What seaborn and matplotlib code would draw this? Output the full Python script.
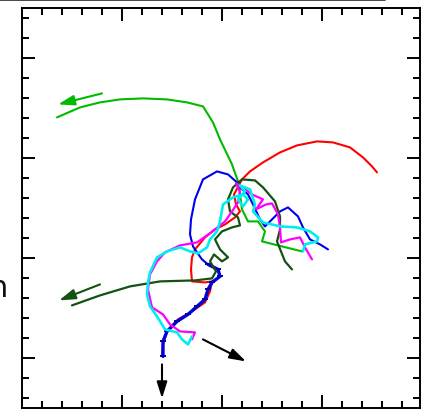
import matplotlib
matplotlib.use("Agg")
import matplotlib.pyplot as plt
from matplotlib.lines import Line2D
from matplotlib.ticker import MultipleLocator, FixedLocator
import seaborn as sns
import pandas as pd

sns.set_style("ticks")

# Trajectory coordinates (x, y) for each tracked particle
green_x = [280, 240, 243, 236, 226, 220, 218, 216, 210, 198, 191, 181, 165, 145, 121, 98, 78, 58, 35]
green_y = [157, 167, 177, 187, 187, 199, 214, 227, 244, 269, 286, 302, 306, 309, 310, 309, 306, 301, 291]

red_x = [355, 350, 341, 328, 311, 295, 275, 258, 241, 228, 220, 212, 214, 218, 213, 203, 193, 183,
         173, 170, 169, 170, 183, 190, 188, 183, 170, 156, 145, 141, 140]
red_y = [236, 242, 251, 261, 266, 267, 263, 256, 246, 237, 229, 214, 204, 197, 191, 184, 179, 171,
         159, 151, 139, 127, 126, 127, 117, 106, 97, 89, 77, 64, 54]

blue_x = [306, 298, 288, 281, 276, 266, 258, 243, 238, 231, 226, 218, 215, 206, 195, 181, 173, 169,
          168, 171, 175, 180, 186]
blue_y = [159, 164, 169, 181, 192, 201, 197, 182, 189, 204, 214, 221, 226, 234, 237, 229, 209, 189,
          174, 162, 156, 149, 144]

navy_x = [186, 196, 198, 190, 186, 183, 175, 166, 155, 145, 141, 141]
navy_y = [144, 139, 132, 126, 119, 109, 102, 94, 87, 77, 67, 52]

dkgreen_x = [270, 263, 255, 258, 258, 253, 241, 233, 220, 211, 206, 208, 216, 218, 210, 200, 193,
             198, 206, 200, 192, 188, 194, 190, 173, 138, 108, 78, 50]
dkgreen_y = [139, 147, 167, 179, 192, 207, 221, 228, 229, 221, 209, 197, 191, 183, 181, 177, 169,
             159, 151, 147, 154, 147, 137, 130, 128, 127, 122, 113, 103]

magenta_x = [170, 173, 158, 148, 141, 130, 126, 128, 135, 143, 158, 175, 185, 193, 203, 210, 216,
             218, 214, 223, 230, 241, 234, 244, 250, 256, 258, 259, 268, 278, 283, 290]
magenta_y = [69, 76, 77, 84, 94, 101, 119, 134, 147, 156, 163, 166, 173, 179, 187, 197, 206,
             217, 225, 219, 214, 209, 199, 204, 205, 194, 181, 166, 169, 171, 161, 149]

cyan_x = [170, 166, 160, 155, 143, 135, 128, 125, 126, 128, 135, 145, 158, 168, 176, 185, 188, 195,
          198, 201, 211, 221, 226, 221, 216, 223, 218, 228, 233, 231, 241, 258, 275, 288, 296, 295,
          283, 281]
cyan_y = [72, 64, 69, 76, 79, 92, 102, 114, 126, 136, 151, 157, 161, 157, 155, 161, 169, 177,
          187, 204, 211, 214, 209, 202, 209, 217, 223, 219, 204, 197, 186, 182, 181, 177, 171, 167,
          164, 157]

# Direction arrows: (x_start, y_start, x_end, y_end, colour)
arrow_x0 = [80, 78, 140, 181]
arrow_y0 = [315, 124, 44, 69]
arrow_x1 = [36, 37, 140, 224]
arrow_y1 = [304, 108, 10, 47]
arrow_col = ["#00bb00", "#145214", "black", "black"]

fig = plt.figure(figsize=(4.28, 4.10), dpi=100)
ax = fig.add_axes([22 / 428, 0.6 / 410, 398 / 428, 400 / 410])


def draw(xs, ys, color, lw, z, **kw):
    df = pd.DataFrame({"x": xs, "y": ys})
    sns.lineplot(data=df, x="x", y="y", sort=False, estimator=None, color=color,
                 linewidth=lw, ax=ax, zorder=z, **kw)


draw(red_x, red_y, "#ff0000", 1.5, 3)
draw(green_x, green_y, "#00bb00", 1.5, 4)
draw(blue_x, blue_y, "#0000ee", 1.5, 4)
draw(navy_x, navy_y, "#0000dd", 2.4, 5, marker="_", markersize=5,
     markeredgewidth=1.4, markeredgecolor="#0000aa")
draw(dkgreen_x, dkgreen_y, "#145214", 1.6, 5)
draw(magenta_x, magenta_y, "#ff00ff", 1.6, 6)
draw(cyan_x, cyan_y, "#00eeee", 1.9, 7)

for x0, y0, x1, y1, c in zip(arrow_x0, arrow_y0, arrow_x1, arrow_y1, arrow_col):
    ax.annotate("", xy=(x1, y1), xytext=(x0, y0),
                arrowprops=dict(arrowstyle="-|>,head_length=0.7,head_width=0.22", color=c,
                                lw=1.5, mutation_scale=14, shrinkA=0, shrinkB=0))

ax.set_xlim(0, 398)
ax.set_ylim(0, 400)
ax.xaxis.set_major_locator(FixedLocator([0, 100, 200, 300]))
ax.xaxis.set_minor_locator(MultipleLocator(20))
ax.yaxis.set_major_locator(FixedLocator([50, 150, 250, 350]))
ax.yaxis.set_minor_locator(FixedLocator([10 + 20 * k for k in range(20)]))
ax.tick_params(which="both", direction="in", top=True, right=True,
               labelbottom=False, labelleft=False, color="black", width=1.4)
ax.tick_params(which="major", length=9.5)
ax.tick_params(which="minor", length=5)
ax.set_xlabel("")
ax.set_ylabel("")
for s in ax.spines.values():
    s.set_visible(True)
    s.set_linewidth(1.4)
    s.set_color("black")

fig.text(8 / 428, (410 - 297) / 410, "n", ha="right", va="baseline", fontsize=22,
         color="#111111")
fig.add_artist(Line2D([0, 385 / 428], [1 - 0.7 / 410] * 2, lw=1.2, color="#2e2822",
                      transform=fig.transFigure))

fig.savefig("out.png", dpi=100)
